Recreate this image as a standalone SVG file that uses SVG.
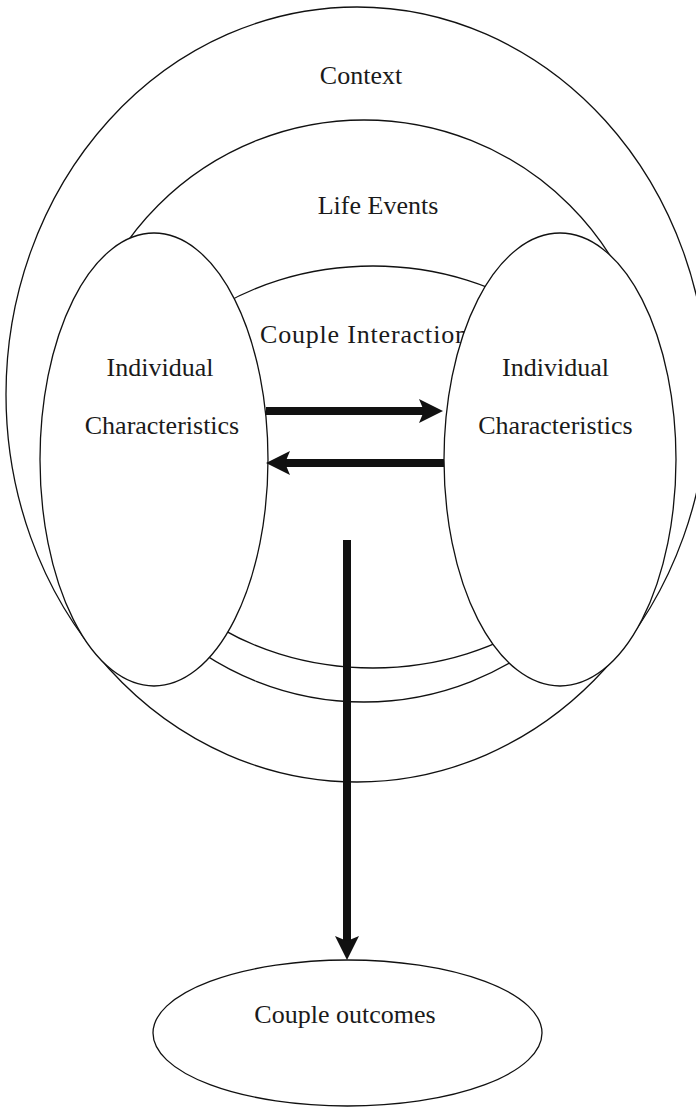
<svg xmlns="http://www.w3.org/2000/svg" width="696" height="1107" viewBox="0 0 696 1107">
<style>
.ring{fill:none;stroke:#111;stroke-width:1.3}
.node{fill:#fff;stroke:#111;stroke-width:1.3}
.lbl{font-family:"Liberation Serif","Times New Roman",serif;font-size:26px;fill:#1a1a1a;text-anchor:middle}
.arr{stroke:#111;stroke-width:8;fill:none;marker-end:url(#head)}
</style>
<defs>
<marker id="head" markerUnits="userSpaceOnUse" markerWidth="24" markerHeight="24" viewBox="0 0 24 24" refX="5" refY="12" orient="auto">
<path d="M0,0 L24,12 L0,24 L5,12 z" fill="#111"/>
</marker>
</defs>
<rect width="696" height="1107" fill="#fff"/>
<g id="context">
<ellipse class="ring" cx="357" cy="394.5" rx="351" ry="387.5"/>
<text class="lbl" x="361" y="84">Context</text>
</g>
<g id="life-events">
<circle class="ring" cx="364" cy="411" r="291"/>
<text class="lbl" x="378" y="214">Life Events</text>
</g>
<g id="couple-interaction">
<ellipse class="ring" cx="373" cy="467" rx="255" ry="201"/>
<text x="260" y="343" textLength="208" lengthAdjust="spacing" style="font-family:'Liberation Serif','Times New Roman',serif;font-size:26px;fill:#1a1a1a">Couple Interaction</text>
</g>
<g id="individual-left">
<ellipse class="node" cx="154" cy="459.5" rx="114" ry="226.5"/>
<text class="lbl" x="160" y="376">Individual</text>
<text class="lbl" x="162" y="434">Characteristics</text>
</g>
<g id="individual-right">
<ellipse class="node" cx="560" cy="459.5" rx="116" ry="226.5"/>
<text class="lbl" x="555.5" y="376">Individual</text>
<text class="lbl" x="555.5" y="434">Characteristics</text>
</g>
<g id="couple-outcomes">
<ellipse class="node" cx="347.5" cy="1033" rx="194.5" ry="73"/>
<text class="lbl" x="345" y="1023">Couple outcomes</text>
</g>
<g id="connectors">
<line class="arr" x1="266" y1="411" x2="424" y2="411"/>
<line class="arr" x1="444" y1="463" x2="285" y2="463"/>
<line class="arr" x1="347" y1="540" x2="347" y2="941"/>
</g>
</svg>
